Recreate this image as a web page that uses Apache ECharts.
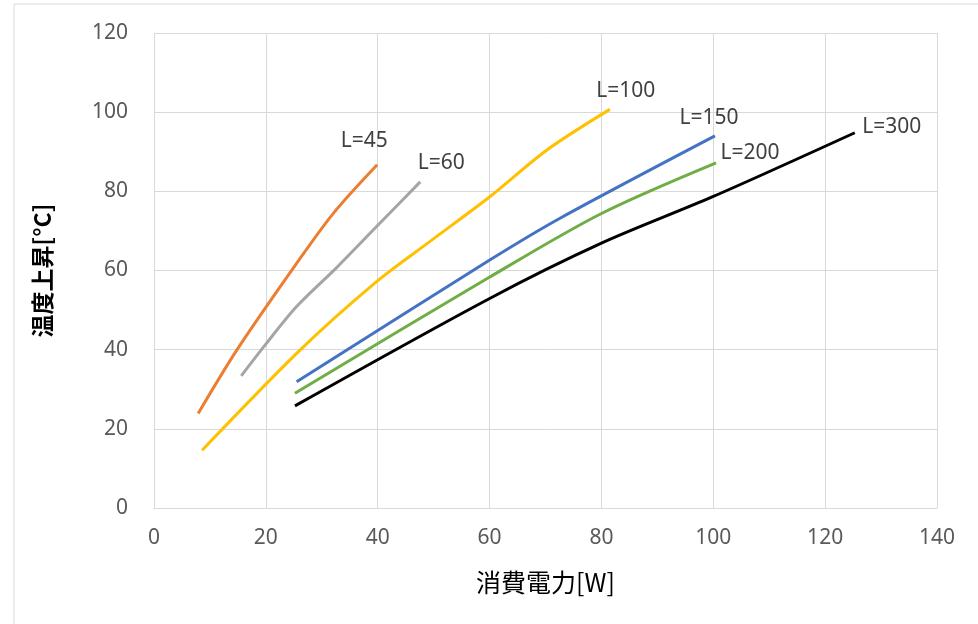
<!DOCTYPE html>
<html><head><meta charset="utf-8">
<script src="https://cdn.jsdelivr.net/npm/echarts@6/dist/echarts.min.js"></script>
<style>html,body{margin:0;padding:0;background:#fff}#c{width:978px;height:624px}</style>
</head><body><div id="c"></div>
<script>
const names = ['L=45','L=60','L=100','L=150','L=200','L=300'];
const colors = ['#ED7D31','#A5A5A5','#FFC000','#4472C4','#70AD47','#000000'];
const x45 = [7.9, 14.8, 25.5, 32.1, 39.9];
const y45 = [23.9, 39.9, 61.8, 74.5, 86.7];
const x60 = [15.6, 20.1, 25.5, 32.7, 39.8, 47.6];
const y60 = [33.4, 41.6, 50.9, 60.8, 71.1, 82.4];
const x100 = [8.6, 26.1, 39.8, 49.3, 60.1, 70.2, 81.5];
const y100 = [14.6, 39.9, 57.2, 67.3, 78.7, 90.4, 100.7];
const x150 = [25.5, 60.1, 72.6, 100.3];
const y150 = [31.9, 62.7, 73.2, 94.0];
const x200 = [25.2, 60.1, 80, 100.5];
const y200 = [29, 58.4, 74.4, 87.2];
const x300 = [25.2, 60.1, 80, 100, 125.3];
const y300 = [25.8, 53, 66.9, 78.7, 94.8];
const xs = [x45, x60, x100, x150, x200, x300];
const ys = [y45, y60, y100, y150, y200, y300];
const labelOffsets = [[-13,-24],[21,-19],[16,-18],[-6,-18],[34,-10],[37,-6]];
const FONT = 'Noto Sans, sans-serif';

const chart = echarts.init(document.getElementById('c'));
const series = names.map((n, i) => ({
  name: n, type: 'line', smooth: 0.3, showSymbol: false, symbol: 'none',
  lineStyle: {color: colors[i], width: 3},
  itemStyle: {color: colors[i]},
  endLabel: {show: true, formatter: n, align: 'center', verticalAlign: 'middle', distance: 0,
    offset: labelOffsets[i], color: '#404040', fontSize: 21, fontFamily: FONT},
  data: xs[i].map((v, j) => [v, ys[i][j]])
}));
chart.setOption({
  animation: false,
  graphic: [{type: 'rect', shape: {x: 14, y: 4, width: 970, height: 640},
    style: {fill: 'none', stroke: '#d9d9d9', lineWidth: 1}}],
  grid: {left: 154, right: 41, top: 33, bottom: 116},
  xAxis: {type: 'value', min: 0, max: 140, interval: 20,
    name: '消費電力[W]', nameLocation: 'middle', nameGap: 62,
    nameTextStyle: {fontSize: 25, color: '#000', fontFamily: 'Noto Sans CJK JP'},
    axisLine: {show: true, lineStyle: {color: '#d9d9d9'}}, axisTick: {show: false},
    axisLabel: {fontSize: 21, color: '#595959', margin: 20, fontFamily: FONT},
    splitLine: {show: true, lineStyle: {color: '#d9d9d9', width: 1}}},
  yAxis: {type: 'value', min: 0, max: 120, interval: 20,
    name: '温度上昇[°C]', nameLocation: 'middle', nameGap: 100, nameRotate: 90,
    nameTextStyle: {fontSize: 23, color: '#000', fontWeight: 'bold', fontFamily: 'Noto Sans CJK JP'},
    axisLine: {show: false}, axisTick: {show: false},
    axisLabel: {fontSize: 21, color: '#595959', margin: 26, fontFamily: FONT},
    splitLine: {show: true, lineStyle: {color: '#d9d9d9', width: 1}}},
  series: series
});
</script></body></html>
